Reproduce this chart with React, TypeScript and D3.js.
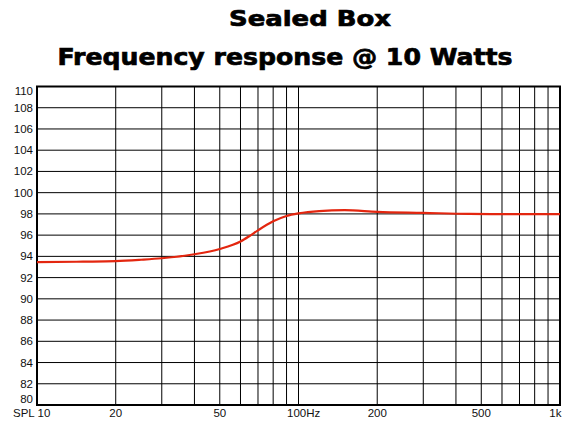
import React from 'react';
import * as d3 from 'd3';

// frequency response (Hz, dB SPL)
const freqs = [10, 15, 20, 25, 30, 40, 50, 60, 65, 70, 80, 90, 100, 120, 150, 200, 300, 450, 600, 1000];
const spl = [93.45, 93.5, 93.55, 93.68, 93.82, 94.2, 94.7, 95.4, 95.92, 96.45, 97.3, 97.8, 98.05, 98.27, 98.35, 98.2, 98.1, 98.0, 97.98, 97.98];

const yTicks = [80, 82, 84, 86, 88, 90, 92, 94, 96, 98, 100, 102, 104, 106, 108, 110];
const gridFreqs = [20, 30, 40, 50, 60, 70, 80, 90, 100, 200, 300, 400, 500, 600, 700, 800, 900];
const xLabels = [
  { f: 10, text: 'SPL 10' },
  { f: 20, text: '20' },
  { f: 50, text: '50' },
  { f: 100, text: '100Hz' },
  { f: 200, text: '200' },
  { f: 500, text: '500' },
  { f: 1000, text: '1k' },
];

const W = 572;
const H = 421;
const margin = { top: 86.5, right: 12, bottom: 16, left: 37 };

const App: React.FC = () => {
  const x = d3.scaleLog().domain([10, 1000]).range([margin.left, W - margin.right]);
  const y = d3.scaleLinear().domain([80, 110]).range([H - margin.bottom, margin.top]);

  const line = d3.line<number>()
    .x((_, i) => x(freqs[i]))
    .y(d => y(d))
    .curve(d3.curveMonotoneX);

  const titleFont = "'DejaVu Sans', 'Liberation Sans', sans-serif";
  const labelFont = "'Liberation Sans', Arial, sans-serif";

  return (
    <svg width={W} height={H} style={{ position: 'absolute', left: 0, top: 0, background: '#fff' }}>
      <text x={310} y={25.5} textAnchor="middle" fontFamily={titleFont} fontWeight="bold" fontSize={22}
        stroke="#000" strokeWidth={0.7}
        textLength={162} lengthAdjust="spacingAndGlyphs">Sealed Box</text>
      <text x={285} y={65} textAnchor="middle" fontFamily={titleFont} fontWeight="bold" fontSize={23}
        stroke="#000" strokeWidth={0.7}
        textLength={455} lengthAdjust="spacingAndGlyphs">Frequency response @ 10 Watts</text>

      {/* horizontal grid */}
      {yTicks.map(t => (
        <line key={'h' + t} x1={margin.left} x2={W - margin.right} y1={y(t)} y2={y(t)} stroke="#000" strokeWidth={1} />
      ))}
      {/* vertical grid */}
      {gridFreqs.map(f => (
        <line key={'v' + f} x1={x(f)} x2={x(f)} y1={margin.top} y2={H - margin.bottom} stroke="#000" strokeWidth={1} />
      ))}
      <rect x={margin.left} y={margin.top} width={W - margin.left - margin.right} height={H - margin.top - margin.bottom}
        fill="none" stroke="#000" strokeWidth={2} />

      <path d={line(spl) ?? ''} fill="none" stroke="#e3260f" strokeWidth={2.2} />

      {yTicks.map((t, i) => {
        let yy = y(t) + 4;
        if (i === 0) yy = y(t) - 2;
        if (i === yTicks.length - 1) yy = y(t) + 8.5;
        return (
          <text key={'yl' + t} x={33} y={yy} textAnchor="end" fontFamily={labelFont} fontSize={11.5} fill="#111">{t}</text>
        );
      })}
      {xLabels.map(l => {
        let anchor: 'start' | 'middle' | 'end' = 'middle';
        let xx = x(l.f);
        if (l.f === 10) { anchor = 'start'; xx = 13; }
        if (l.f === 100) { anchor = 'start'; xx = x(l.f) - 11.5; }
        if (l.f === 1000) { anchor = 'end'; xx = x(l.f) + 1.5; }
        return (
          <text key={'xl' + l.f} x={xx} y={417} textAnchor={anchor} fontFamily={labelFont} fontSize={11.5} fill="#111">{l.text}</text>
        );
      })}
    </svg>
  );
};

export default App;
